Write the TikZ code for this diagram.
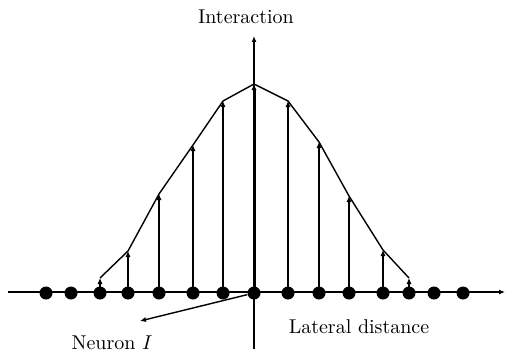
\documentclass[tikz,border=0pt]{standalone}
\usetikzlibrary{positioning, arrows.meta, calc}

\begin{document}
\begin{tikzpicture}[x=0.5pt, y=-0.5pt,
    neuron/.style={circle, fill=black, inner sep=0pt, minimum size=6.5pt},
    axisline/.style={line width=0.7pt, -{Latex[length=3pt,width=2.5pt]}},
    link/.style={line width=0.7pt, -{Latex[length=3pt,width=2.6pt]}},
    curveline/.style={line width=0.7pt},
    lbl/.style={font=\normalsize, inner sep=1pt}]
  \useasboundingbox (0,0) rectangle (506,353);
  % axes
  \coordinate (xl) at (8,292);
  \coordinate (xr) at (505,292);
  \coordinate (yb) at (254,349);
  \coordinate (yt) at (254,36);
  \draw[axisline] (xl) -- (xr);
  \draw[axisline] (yb) -- (yt);
  % neurons along the row
  \foreach \i/\x in {1/46, 2/71, 3/100, 4/128, 5/159, 6/193, 7/223, 8/254,
                     9/288, 10/319, 11/349, 12/383, 13/409, 14/434, 15/463}
    \node[neuron] (n\i) at (\x,293) {};
  % interaction strengths
  \foreach \i/\x/\y in {3/100/278, 4/128/251, 5/159/194, 6/193/145, 7/223/101,
                        8/254/84, 9/288/101, 10/319/142, 11/349/196,
                        12/383/250, 13/409/278}
    \coordinate (t\i) at (\x,\y);
  \draw[curveline] (t3) -- (t4) -- (t5) -- (t6) -- (t7) -- (t8)
                   -- (t9) -- (t10) -- (t11) -- (t12) -- (t13);
  \foreach \i in {3,4,5,6,7,9,10,11,12,13}
    \draw[link] (n\i.center) -- (t\i);
  \draw[link, line width=1.5pt] (n8.center) -- (t8);
  % labels
  \node[lbl] (inter) at (246,17) {Interaction};
  \node[lbl] (lateral) at (359,327) {Lateral distance};
  \node[lbl] (neur) at (112,343) {Neuron $I$};
  \coordinate (ntip) at (140,321);
  \draw[link] (n8) -- (ntip);
\end{tikzpicture}
\end{document}
